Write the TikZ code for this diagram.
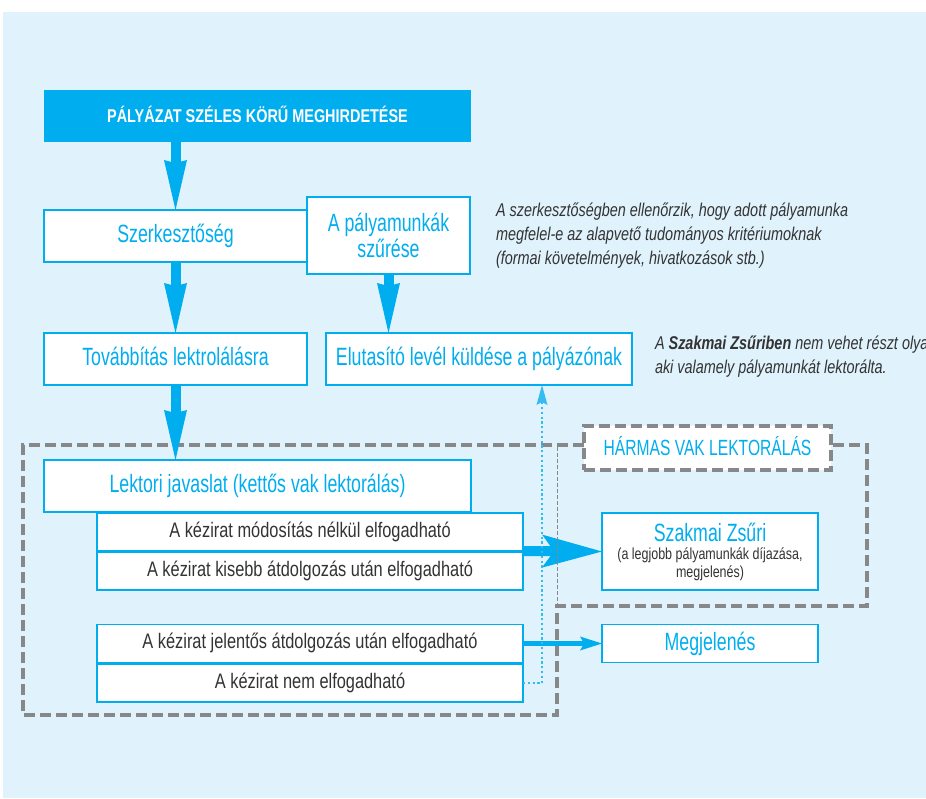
\documentclass[tikz,border=0pt]{standalone}
\usepackage{fontspec}
\setmainfont[FakeStretch=0.78]{Liberation Sans}
\newfontfamily\condlight[FakeStretch=0.71]{Liberation Sans}
\usetikzlibrary{arrows.meta}
\definecolor{kek}{RGB}{0,174,239}
\definecolor{hatter}{RGB}{224,242,252}
\definecolor{szurke}{RGB}{51,51,51}
\definecolor{keretszurke}{RGB}{135,136,138}
\definecolor{pontkek}{RGB}{52,188,242}
\begin{document}
\begin{tikzpicture}[x=1pt, y=-1pt,
	every node/.style={inner sep=0pt, outer sep=0pt},
	keret/.style={draw=kek, line width=1.5pt, fill=white},
	cimke/.style={keret, text=kek, font=\condlight\fontsize{25}{26}\selectfont},
	sor/.style={text height=18pt, text depth=5pt},
	valasz/.style={keret, text=szurke, minimum width=426pt, minimum height=38pt, text height=15pt, text depth=4.5pt, font=\fontsize{21}{24}\selectfont},
	megjegyzes/.style={anchor=north west, align=left, text=szurke, font=\itshape\fontsize{18.5}{24}\selectfont},
	szaggatott/.style={draw=keretszurke, line width=3.5pt, dash pattern=on 11pt off 5pt},
	vekony/.style={draw=keretszurke, line width=1pt, dash pattern=on 4pt off 2pt},
	vastag/.style={draw=kek, line width=10pt, -{Stealth[length=50pt, width=23pt, inset=3pt, line width=0pt]}},
	nagynyil/.style={draw=kek, line width=10pt, -{Stealth[length=60pt, width=33pt, inset=12pt, line width=0pt]}},
	kisnyil/.style={draw=kek, line width=4.5pt, -{Stealth[length=22pt, width=14pt, inset=4pt, line width=0pt]}},
	pontozott/.style={draw=pontkek, line width=2.2pt, dash pattern=on 2.2pt off 2.6pt, -{Stealth[length=20pt, width=11pt, inset=3pt, line width=0pt]}}]
	\useasboundingbox (0,0) rectangle (926,798);
	\fill[hatter] (3,12) rectangle (926,798);

	% felso resz
	\node[fill=kek, minimum width=427pt, minimum height=52pt, text=white, text height=12.9pt, font=\bfseries\fontsize{18.5}{22}\selectfont] at (257.5,116) (Hird) {PÁLYÁZAT SZÉLES KÖRŰ MEGHIRDETÉSE};
	\node[cimke, sor, minimum width=263pt, minimum height=52pt] at (175.5,236) (Szerk) {Szerkesztőség};
	\node[cimke, align=center, minimum width=163pt, minimum height=77pt] at (388.5,235.5) (Szures) {A pályamunkák\\szűrése};
	\node[megjegyzes] at (496,203) (Megj1) {A szerkesztőségben ellenőrzik, hogy adott pályamunka\\megfelel-e az alapvető tudományos kritériumoknak\\(formai követelmények, hivatkozások stb.)};
	\node[cimke, sor, minimum width=263pt, minimum height=52pt] at (175.5,359) (Tovabb) {Továbbítás lektrolálásra};
	\node[cimke, sor, minimum width=306pt, minimum height=52pt] at (479,359) (Elut) {Elutasító levél küldése a pályázónak};
	\node[megjegyzes] at (655,336) (Megj2) {A \textbf{Szakmai Zsűriben} nem vehet részt olyan\\aki valamely pályamunkát lektorálta.};

	% lektoralas
	\node[draw=keretszurke, line width=3.5pt, dash pattern=on 11pt off 5pt, fill=white, text=kek, minimum width=247pt, minimum height=44pt, text height=15.7pt, font=\condlight\fontsize{22}{24}\selectfont] at (707.5,448) (Harmas) {HÁRMAS VAK LEKTORÁLÁS};
	\draw[szaggatott] (Harmas.west |- 0,445) -- (23,445) -- (23,715) -- (557,715) -- (557,606) -- (867,606) -- (867,445) -- (Harmas.east |- 0,445);
	\node[cimke, sor, minimum width=427pt, minimum height=52pt] at (257.5,486) (Lektor) {Lektori javaslat (kettős vak lektorálás)};
	\node[valasz] at (310,532) (K1) {A kézirat módosítás nélkül elfogadható};
	\node[valasz] at (310,571) (K2) {A kézirat kisebb átdolgozás után elfogadható};
	\node[valasz] at (310,643.5) (K3) {A kézirat jelentős átdolgozás után elfogadható};
	\node[valasz] at (310,683) (K4) {A kézirat nem elfogadható};
	\node[cimke, align=center, minimum width=216pt, minimum height=77pt, font=\condlight\fontsize{25}{18}\selectfont] at (710,551.5) (Zsuri) {Szakmai Zsűri\\{\color{szurke}\normalfont\fontsize{16}{18}\selectfont(a legjobb pályamunkák díjazása,}\\{\color{szurke}\normalfont\fontsize{16}{18}\selectfont megjelenés)}};
	\node[cimke, sor, minimum width=216pt, minimum height=38pt] at (710,643.5) (Megj) {Megjelenés};

	% nyilak
	\draw[vastag] (Szerk.north |- Hird.south) -- (Szerk.north);
	\draw[vastag] (Szerk.south) -- (Tovabb.north);
	\draw[vastag] (Szures.south) -- (Szures.south |- Elut.north);
	\draw[vastag] (Tovabb.south) -- (Tovabb.south |- Lektor.north);
	\draw[nagynyil] (K1.south east) -- (Zsuri.west);
	\draw[kisnyil] (K3.east) -- (Megj.west);
	\draw[vekony] (557.5,447) -- (557.5,606);
	\draw[pontozott] (K4.east) -| ([xshift=63pt]Elut.south);
\end{tikzpicture}
\end{document}
